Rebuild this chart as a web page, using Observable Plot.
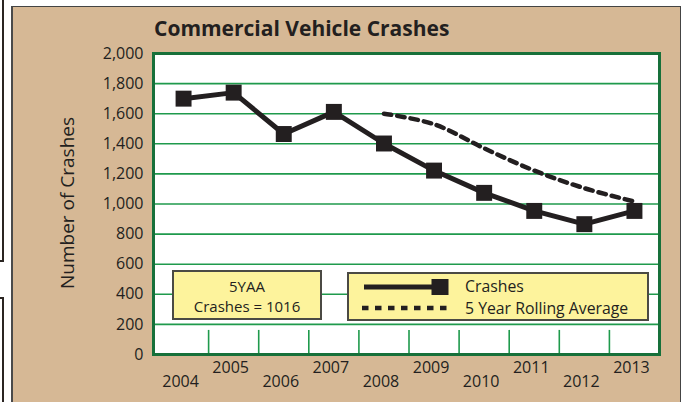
<!DOCTYPE html>
<html><head><meta charset="utf-8">
<script src="https://cdn.jsdelivr.net/npm/d3@7"></script>
<script src="https://cdn.jsdelivr.net/npm/@observablehq/plot@0.6"></script>
<style>
body{margin:0;background:#fff;width:684px;height:402px;overflow:hidden;position:relative;font-family:"Open Sans",sans-serif;color:#231f20}
#panel{position:absolute;left:11px;top:6px;width:667px;height:420px;background:#d6b895;border:1.5px solid #444;border-left:2px solid #4a4a4a}
.edge{position:absolute;left:-30px;width:30px;border:2px solid #2b2522}
#title{position:absolute;left:154px;top:18px;font-weight:700;font-size:21px;line-height:21px;white-space:nowrap}
#ylab{position:absolute;left:67px;top:203px;font-size:19px;white-space:nowrap;transform:translate(-50%,-50%) rotate(-90deg)}
#chart{position:absolute;left:0;top:0}
.box{position:absolute;background:#fdf39c;border:2px solid #4b4a44;box-sizing:border-box}
#box1{left:172px;top:270px;width:150px;height:50px;text-align:center;font-size:15px;line-height:20.6px;padding-top:3.5px}
#box2{left:347px;top:272px;width:302px;height:49px}
#box2 svg{position:absolute;left:13px;top:0}
#box2 .t{position:absolute;left:116px;top:2px;font-size:15.8px;line-height:21.5px;white-space:nowrap}
</style></head>
<body>
<div class="edge" style="top:-4px;height:262px"></div>
<div class="edge" style="top:297px;height:200px"></div>
<div id="panel"></div>
<div id="chart"></div>
<div id="title">Commercial Vehicle Crashes</div>
<div id="ylab">Number of Crashes</div>
<div class="box" id="box1">5YAA<br>Crashes = 1016</div>
<div class="box" id="box2">
<svg width="92" height="45">
<line x1="2" y1="13" x2="78" y2="13" stroke="#231f20" stroke-width="5"/>
<rect x="69.5" y="5" width="17" height="16" fill="#231f20"/>
<line x1="0" y1="34" x2="88" y2="34" stroke="#231f20" stroke-width="4.5" stroke-dasharray="6.5,6.5"/>
</svg>
<div class="t">Crashes<br>5 Year Rolling Average</div>
</div>
<script>
const years = [2004, 2005, 2006, 2007, 2008, 2009, 2010, 2011, 2012, 2013];
const crashes = [1700, 1740, 1465, 1612, 1402, 1222, 1074, 954, 866, 954];
const avgYears = [2008, 2009, 2010, 2011, 2012, 2013];
const rollingAvg = [1600, 1530, 1370, 1222, 1105, 1016];
const yTicks = [0, 200, 400, 600, 800, 1000, 1200, 1400, 1600, 1800, 2000];

const crashData = years.map((year, i) => ({year, value: crashes[i]}));
const avgData = avgYears.map((year, i) => ({year, value: rollingAvg[i]}));
const separators = years.map(y => y + 0.5);

const ink = "#231f20";
const grid = "#1f9a4c";
const frameGreen = "#17703a";
const fmt = d3.format(",");

const plot = Plot.plot({
  width: 684,
  height: 402,
  marginLeft: 153,
  marginRight: 25,
  marginTop: 53,
  marginBottom: 48,
  style: {background: "transparent", fontFamily: "'Open Sans', sans-serif", color: ink, overflow: "visible"},
  x: {domain: [2003.4, 2013.5], axis: null},
  y: {domain: [0, 2000], axis: null},
  marks: [
    Plot.frame({fill: "white"}),
    Plot.ruleY(yTicks, {stroke: grid, strokeWidth: 1.6}),
    Plot.ruleX(separators, {y1: 0, y2: 160, stroke: grid, strokeWidth: 1.6}),
    Plot.frame({stroke: frameGreen, strokeWidth: 3}),
    Plot.axisY({ticks: yTicks, tickSize: 0, tickPadding: 10, tickFormat: fmt, fontSize: 16, fill: ink, label: null}),
    Plot.text(years.filter(y => y % 2 === 1), {x: d => d, text: d => String(d), frameAnchor: "bottom", dy: 13, dx: -3, fontSize: 16, fill: ink, lineAnchor: "middle"}),
    Plot.text(years.filter(y => y % 2 === 0), {x: d => d, text: d => String(d), frameAnchor: "bottom", dy: 27, dx: -3, fontSize: 16, fill: ink, lineAnchor: "middle"}),
    Plot.line(avgData, {x: "year", y: "value", curve: "catmull-rom", stroke: ink, strokeWidth: 4.5, strokeDasharray: "7.5,6"}),
    Plot.line(crashData, {x: "year", y: "value", stroke: ink, strokeWidth: 5, strokeLinejoin: "miter"}),
    Plot.dot(crashData, {x: "year", y: "value", symbol: "square", r: 9, fill: ink, stroke: "none"})
  ]
});
document.getElementById("chart").appendChild(plot);
</script>
</body></html>
